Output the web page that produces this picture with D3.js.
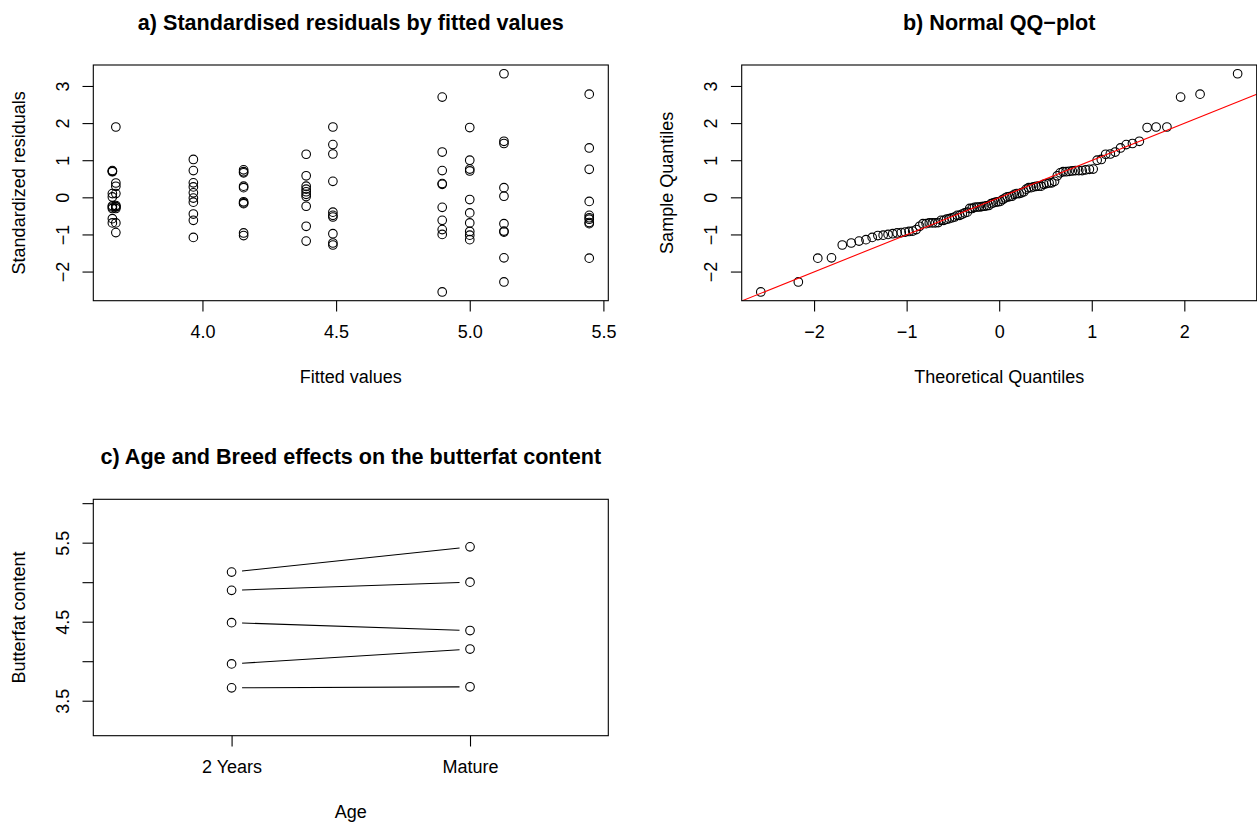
<!DOCTYPE html>
<html><head><meta charset="utf-8">
<script src="https://cdn.jsdelivr.net/npm/d3@7"></script>
<style>
body{margin:0;background:#fff}
text{font-family:"Liberation Sans",Arial,Helvetica,sans-serif;fill:#000}
</style>
</head><body>
<svg id="chart" width="1257" height="827" xmlns="http://www.w3.org/2000/svg"></svg>
<script>
// ---------------- data ----------------
const breeds = ["Holstein-Friesian", "Ayrshire", "Canadian", "Guernsey", "Jersey"];
const ages = ["2 Years", "Mature"];
// cell means (fitted values) by breed
const meanTwoYears = [3.663, 3.966, 4.488, 4.897, 5.128];
const meanMature   = [3.676, 4.154, 4.388, 5.000, 5.447];
// standardised residuals by breed, 2-year-old cows
const residHolstein2 = [0.72, 0.70, 0.69, 0.10, 0.01, -0.23, -0.26, -0.30, -0.575, -0.69];
const residAyrshire2 = [1.02, 0.72, 0.39, 0.28, 0.12, -0.02, -0.13, -0.45, -0.62, -1.08];
const residCanadian2 = [1.895, 1.42, 1.167, 0.43, -0.40, -0.485, -0.53, -0.98, -1.23, -1.285];
const residGuernsey2 = [2.70, 1.22, 0.72, 0.37, 0.35, -0.27, -0.62, -0.87, -1.00, -2.55];
const residJersey2   = [3.33, 1.51, 1.45, 0.26, 0.03, -0.71, -0.91, -0.935, -1.63, -2.28];
// standardised residuals by breed, mature cows
const residHolsteinM = [1.895, 0.386, 0.297, 0.10, -0.22, -0.25, -0.26, -0.30, -0.69, -0.95];
const residAyrshireM = [0.74, 0.69, 0.66, 0.30, 0.26, -0.12, -0.15, -0.17, -0.96, -1.03];
const residCanadianM = [1.16, 0.58, 0.30, 0.22, 0.15, 0.08, 0.02, -0.24, -0.78, -1.18];
const residGuernseyM = [1.88, 1.00, 0.76, 0.71, -0.06, -0.42, -0.69, -0.92, -1.02, -1.14];
const residJerseyM   = [2.78, 1.33, 0.755, -0.11, -0.485, -0.55, -0.59, -0.68, -0.71, -1.64];

const residTwoYears = [residHolstein2, residAyrshire2, residCanadian2, residGuernsey2, residJersey2];
const residMature   = [residHolsteinM, residAyrshireM, residCanadianM, residGuernseyM, residJerseyM];

// tick values
const ticksResid  = [-2, -1, 0, 1, 2, 3];
const ticksFitted = [4.0, 4.5, 5.0, 5.5];
const ticksTheo   = [-2, -1, 0, 1, 2];
const ticksFat    = [3.5, 4.0, 4.5, 5.0, 5.5, 6.0];
const labelsFat   = [3.5, 4.5, 5.5];
const fatLimits   = [3.168, 5.938];
const ageLimits   = [0.5, 2.5];

// ---------------- helpers ----------------
const svg = d3.select("#chart");
const FS = 18, TFS = 21.6, LW = 1.1, TICK = 10.8, R = 4.3;
function ext(lo, hi) { const d = (hi - lo) * 0.04; return [lo - d, hi + d]; }

// inverse normal CDF (Acklam)
function qnorm(p) {
  const a = [-3.969683028665376e+01, 2.209460984245205e+02, -2.759285104469687e+02, 1.383577518672690e+02, -3.066479806614716e+01, 2.506628277459239e+00];
  const b = [-5.447609879822406e+01, 1.615858368580409e+02, -1.556989798598866e+02, 6.680131188771972e+01, -1.328068155288572e+01];
  const c = [-7.784894002430293e-03, -3.223964580411365e-01, -2.400758277161838e+00, -2.549732539343734e+00, 4.374664141464968e+00, 2.938163982698783e+00];
  const d = [7.784695709041462e-03, 3.224671290700398e-01, 2.445134137142996e+00, 3.754408661907416e+00];
  const pl = 0.02425;
  let q, r;
  if (p < pl) { q = Math.sqrt(-2 * Math.log(p)); return (((((c[0]*q+c[1])*q+c[2])*q+c[3])*q+c[4])*q+c[5]) / ((((d[0]*q+d[1])*q+d[2])*q+d[3])*q+1); }
  if (p > 1 - pl) { q = Math.sqrt(-2 * Math.log(1 - p)); return -(((((c[0]*q+c[1])*q+c[2])*q+c[3])*q+c[4])*q+c[5]) / ((((d[0]*q+d[1])*q+d[2])*q+d[3])*q+1); }
  q = p - 0.5; r = q * q;
  return (((((a[0]*r+a[1])*r+a[2])*r+a[3])*r+a[4])*r+a[5])*q / (((((b[0]*r+b[1])*r+b[2])*r+b[3])*r+b[4])*r+1);
}

function frame(box) {
  svg.append("rect").attr("x", box.left).attr("y", box.top)
    .attr("width", box.right - box.left).attr("height", box.bottom - box.top)
    .attr("fill", "none").attr("stroke", "#000").attr("stroke-width", LW);
}
function xAxis(box, x, values, format) {
  const g = svg.append("g").attr("transform", `translate(0,${box.bottom})`)
    .call(d3.axisBottom(x).tickValues(values).tickSize(TICK).tickSizeOuter(0).tickFormat(format));
  g.select(".domain").remove();
  g.selectAll(".tick line").attr("stroke", "#000").attr("stroke-width", LW);
  g.selectAll(".tick text").attr("y", 37.5).attr("dy", null)
    .attr("font-size", FS).attr("fill", "#000");
  g.attr("font-family", null).attr("font-size", null);
  return g;
}
function yAxis(box, y, values, labelled, format) {
  const g = svg.append("g").attr("transform", `translate(${box.left},0)`)
    .call(d3.axisLeft(y).tickValues(values).tickSize(TICK).tickSizeOuter(0).tickFormat(format));
  g.select(".domain").remove();
  g.selectAll(".tick line").attr("stroke", "#000").attr("stroke-width", LW);
  g.selectAll(".tick text")
    .attr("x", null).attr("dy", null)
    .attr("text-anchor", "middle")
    .attr("transform", "translate(-24.8,0) rotate(-90)")
    .attr("font-size", FS).attr("fill", "#000")
    .text(d => labelled.includes(d) ? format(d) : "");
  g.attr("font-family", null).attr("font-size", null);
  return g;
}
function title(box, txt, yBase) {
  svg.append("text").attr("x", (box.left + box.right) / 2).attr("y", yBase)
    .attr("text-anchor", "middle").attr("font-size", TFS).attr("font-weight", "bold").text(txt);
}
function xTitle(box, txt) {
  svg.append("text").attr("x", (box.left + box.right) / 2).attr("y", box.bottom + 82)
    .attr("text-anchor", "middle").attr("font-size", FS).text(txt);
}
function yTitle(box, txt) {
  svg.append("text").attr("transform", `translate(${box.left - 68.8},${(box.top + box.bottom) / 2}) rotate(-90)`)
    .attr("text-anchor", "middle").attr("font-size", FS).text(txt);
}

// assemble residual records
const records = [];
breeds.forEach((b, i) => {
  residTwoYears[i].forEach(r => records.push({ fitted: meanTwoYears[i], resid: r }));
  residMature[i].forEach(r => records.push({ fitted: meanMature[i], resid: r }));
});
const residExtent = d3.extent(records, d => d.resid);

// ---------------- panel a ----------------
const A = { left: 93.3, right: 608.3, top: 65, bottom: 300.7 };
const xa = d3.scaleLinear().domain(ext(...d3.extent(records, d => d.fitted))).range([A.left, A.right]);
const ya = d3.scaleLinear().domain(ext(...residExtent)).range([A.bottom, A.top]);
svg.append("g").selectAll("circle").data(records).join("circle")
  .attr("cx", d => xa(d.fitted)).attr("cy", d => ya(d.resid)).attr("r", R)
  .attr("fill", "none").attr("stroke", "#000").attr("stroke-width", LW);
frame(A);
xAxis(A, xa, ticksFitted, d3.format(".1f"));
yAxis(A, ya, ticksResid, ticksResid, d3.format("d"));
title(A, "a) Standardised residuals by fitted values", 29.5);
xTitle(A, "Fitted values");
yTitle(A, "Standardized residuals");

// ---------------- panel b ----------------
const B = { left: 741.7, right: 1256.7, top: 65, bottom: 300.7 };
const sorted = records.map(d => d.resid).sort(d3.ascending);
const n = sorted.length;
const qq = sorted.map((v, i) => ({ theo: qnorm((i + 1 - 0.5) / n), sample: v }));
const xb = d3.scaleLinear().domain(ext(...d3.extent(qq, d => d.theo))).range([B.left, B.right]);
const yb = d3.scaleLinear().domain(ext(...residExtent)).range([B.bottom, B.top]);
svg.append("defs").append("clipPath").attr("id", "clipB").append("rect")
  .attr("x", B.left).attr("y", B.top).attr("width", B.right - B.left).attr("height", B.bottom - B.top);
svg.append("g").selectAll("circle").data(qq).join("circle")
  .attr("cx", d => xb(d.theo)).attr("cy", d => yb(d.sample)).attr("r", R)
  .attr("fill", "none").attr("stroke", "#000").attr("stroke-width", LW);
// qqline through the quartiles
const yq = [d3.quantile(sorted, 0.25), d3.quantile(sorted, 0.75)];
const xq = [qnorm(0.25), qnorm(0.75)];
const slope = (yq[1] - yq[0]) / (xq[1] - xq[0]);
const intercept = yq[0] - slope * xq[0];
const xd = xb.domain();
svg.append("line").attr("clip-path", "url(#clipB)")
  .attr("x1", xb(xd[0])).attr("y1", yb(intercept + slope * xd[0]))
  .attr("x2", xb(xd[1])).attr("y2", yb(intercept + slope * xd[1]))
  .attr("stroke", "#ff0000").attr("stroke-width", LW);
frame(B);
xAxis(B, xb, ticksTheo, d3.format("d"));
yAxis(B, yb, ticksResid, ticksResid, d3.format("d"));
title(B, "b) Normal QQ\u2212plot", 29.5);
xTitle(B, "Theoretical Quantiles");
yTitle(B, "Sample Quantiles");

// ---------------- panel c ----------------
const C = { left: 93.3, right: 608.3, top: 499.3, bottom: 735.7 };
const xc = d3.scaleLinear().domain(ext(...ageLimits)).range([C.left, C.right]);
const yc = d3.scaleLinear().domain(ext(...fatLimits)).range([C.bottom, C.top]);
const GAP = 10.5;
breeds.forEach((b, i) => {
  const p1 = [xc(1), yc(meanTwoYears[i])], p2 = [xc(2), yc(meanMature[i])];
  const dx = p2[0] - p1[0], dy = p2[1] - p1[1], L = Math.hypot(dx, dy);
  const ux = dx / L, uy = dy / L;
  svg.append("line")
    .attr("x1", p1[0] + ux * GAP).attr("y1", p1[1] + uy * GAP)
    .attr("x2", p2[0] - ux * GAP).attr("y2", p2[1] - uy * GAP)
    .attr("stroke", "#000").attr("stroke-width", LW);
});
const cellPts = [];
breeds.forEach((b, i) => { cellPts.push({ a: 1, v: meanTwoYears[i] }); cellPts.push({ a: 2, v: meanMature[i] }); });
svg.append("g").selectAll("circle").data(cellPts).join("circle")
  .attr("cx", d => xc(d.a)).attr("cy", d => yc(d.v)).attr("r", R)
  .attr("fill", "none").attr("stroke", "#000").attr("stroke-width", LW);
frame(C);
xAxis(C, xc, [1, 2], d => ages[d - 1]);
yAxis(C, yc, ticksFat, labelsFat, d3.format(".1f"));
title(C, "c) Age and Breed effects on the butterfat content", 463.7);
xTitle(C, "Age");
yTitle(C, "Butterfat content");
</script>
</body></html>
